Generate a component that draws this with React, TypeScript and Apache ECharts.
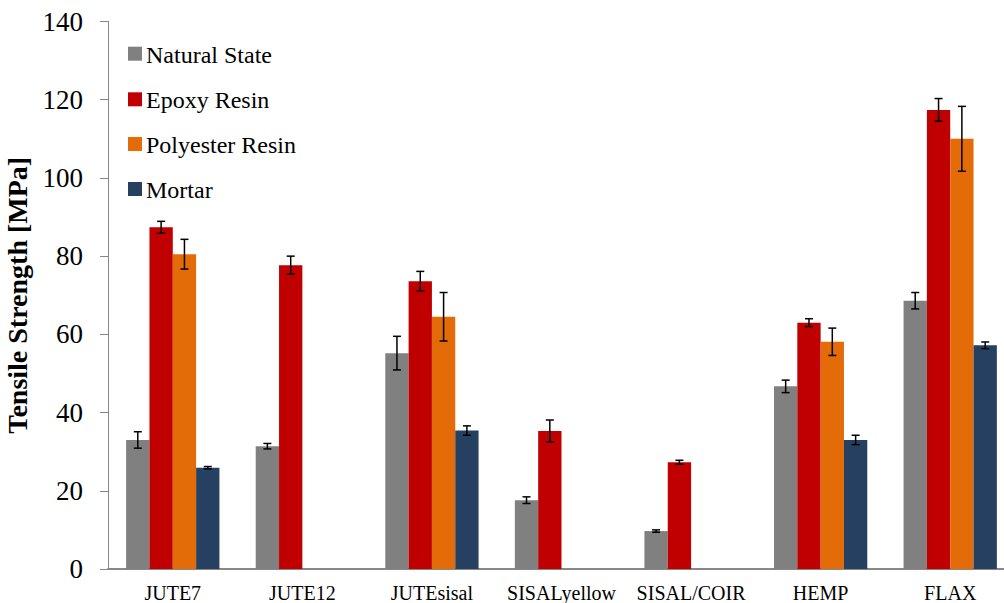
import React, { useEffect, useRef } from "react";
import * as echarts from "echarts";

const categories = ["JUTE7", "JUTE12", "JUTEsisal", "SISALyellow", "SISAL/COIR", "HEMP", "FLAX"];
const seriesNames = ["Natural State", "Epoxy Resin", "Polyester Resin", "Mortar"];
const colors = ["#808080", "#C00000", "#E36C09", "#254061"];

const naturalState = [33.0, 31.4, 55.2, 17.6, 9.7, 46.7, 68.6];
const naturalErr = [2.1, 0.7, 4.3, 0.85, 0.3, 1.6, 2.1];
const epoxyResin = [87.4, 77.7, 73.6, 35.3, 27.3, 63.0, 117.4];
const epoxyErr = [1.5, 2.3, 2.5, 2.8, 0.5, 1.0, 2.9];
const polyesterResin = [80.5, null, 64.5, null, null, 58.1, 110.0];
const polyesterErr = [3.8, null, 6.2, null, null, 3.5, 8.3];
const mortar = [25.9, null, 35.4, null, null, 33.0, 57.2];
const mortarErr = [0.3, null, 1.2, null, null, 1.2, 0.85];

const yTicks = { min: 0, max: 140, interval: 20 };

const values = [naturalState, epoxyResin, polyesterResin, mortar];
const errors = [naturalErr, epoxyErr, polyesterErr, mortarErr];
const CAT_GAP = 0.28;
const FONT = "Liberation Serif";

export default function App() {
  const ref = useRef<HTMLDivElement>(null);
  useEffect(() => {
    if (!ref.current) return;
    const chart = echarts.init(ref.current, null, { renderer: "svg" });

    const barSeries = seriesNames.map((name, i) => ({
      name,
      type: "bar",
      data: values[i],
      barGap: "0%",
      barCategoryGap: CAT_GAP * 100 + "%",
      itemStyle: { color: colors[i] },
    }));

    const errSeries = seriesNames.map((name, s) => {
      const data: number[][] = [];
      values[s].forEach((v, k) => {
        if (v != null && errors[s][k] != null) data.push([k, v as number, errors[s][k] as number]);
      });
      return {
        name: name + " error",
        type: "custom",
        data,
        encode: { x: 0, y: 1 },
        z: 10,
        renderItem: (params: any, api: any) => {
          const k = api.value(0);
          const v = api.value(1);
          const e = api.value(2);
          const c = api.coord([k, v]);
          const band = api.size([1, 0])[0];
          const bw = (band * (1 - CAT_GAP)) / 4;
          const x = c[0] + (s - 1.5) * bw;
          const top = api.coord([k, v + e])[1];
          const bot = api.coord([k, v - e])[1];
          const half = 4;
          const st = { stroke: "#000", lineWidth: 1.5 };
          return {
            type: "group",
            children: [
              { type: "line", shape: { x1: x, y1: top, x2: x, y2: bot }, style: st },
              { type: "line", shape: { x1: x - half, y1: top, x2: x + half, y2: top }, style: st },
              { type: "line", shape: { x1: x - half, y1: bot, x2: x + half, y2: bot }, style: st },
            ],
          };
        },
      };
    });

    const legendY = [53.7, 99.3, 144, 189];
    const legendGraphic: any[] = [];
    seriesNames.forEach((name, i) => {
      legendGraphic.push({
        type: "rect",
        left: 128,
        top: legendY[i] - 7,
        shape: { width: 14, height: 14 },
        style: { fill: colors[i] },
      });
      legendGraphic.push({
        type: "text",
        x: 146,
        y: legendY[i] + 1,
        style: {
          text: name,
          fontFamily: "Times New Roman",
          fontSize: 24,
          fill: "#000",
          verticalAlign: "middle",
          align: "left",
        },
      });
    });

    chart.setOption({
      animation: false,
      textStyle: { fontFamily: FONT },
      grid: { left: 108, top: 21.5, bottom: 34, width: 907, outerBoundsMode: "none", containLabel: false },
      graphic: legendGraphic,
      xAxis: {
        type: "category",
        data: categories,
        axisLine: { show: true, lineStyle: { color: "#888888", width: 2 } },
        axisTick: { show: false },
        axisLabel: { fontSize: 20, color: "#000", fontFamily: FONT, margin: 14, interval: 0 },
        splitLine: { show: false },
      },
      yAxis: {
        type: "value",
        min: yTicks.min,
        max: yTicks.max,
        interval: yTicks.interval,
        name: "Tensile Strength [MPa]",
        nameLocation: "middle",
        nameGap: 72,
        nameTextStyle: { fontSize: 28, fontWeight: "bold", color: "#000", fontFamily: FONT },
        axisLine: { show: true, lineStyle: { color: "#888888", width: 1 } },
        axisTick: { show: true, inside: false, length: 8, lineStyle: { color: "#888888" } },
        axisLabel: { fontSize: 27, color: "#000", fontFamily: FONT, margin: 25 },
        splitLine: { show: false },
      },
      series: [...barSeries, ...errSeries],
    });
    return () => chart.dispose();
  }, []);
  return (
    <div
      ref={ref}
      style={{ position: "absolute", left: 0, top: 0, width: 1004, height: 603, background: "#fff" }}
    />
  );
}
